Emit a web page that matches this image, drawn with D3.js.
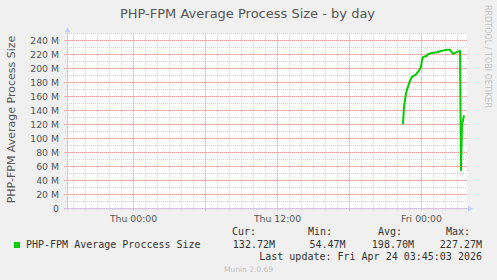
<!DOCTYPE html>
<html>
<head>
<meta charset="utf-8">
<script src="https://cdn.jsdelivr.net/npm/d3@7"></script>
<style>
  body { margin: 0; background: #f0f0f0; }
  svg { display: block; }
  text { font-family: "DejaVu Sans", sans-serif; fill: #555; }
  .mono { font-family: "DejaVu Sans Mono", monospace; fill: #333; }
</style>
</head>
<body>
<svg width="497" height="280"></svg>
<script>
"use strict"

// five minute samples, values in MB
const times = ["2026-04-23T22:30", "2026-04-23T22:35", "2026-04-23T22:45", "2026-04-23T22:55",
    "2026-04-23T23:05", "2026-04-23T23:15", "2026-04-23T23:35", "2026-04-23T23:50",
    "2026-04-24T00:00", "2026-04-24T00:05", "2026-04-24T00:10", "2026-04-24T00:30",
    "2026-04-24T00:35", "2026-04-24T00:55", "2026-04-24T01:20", "2026-04-24T01:45",
    "2026-04-24T02:10", "2026-04-24T02:25", "2026-04-24T02:40", "2026-04-24T02:50",
    "2026-04-24T03:10", "2026-04-24T03:15", "2026-04-24T03:20", "2026-04-24T03:25",
    "2026-04-24T03:35"]
const sizes = [120, 145, 164, 174, 182, 188, 191, 197, 202, 212, 216, 218,
    220, 222, 223, 225, 226.5, 226.5, 220.5, 222, 224.5, 225, 54.5, 119, 132.7]

const yMax = 250
const timeStart = "2026-04-22T18:30"
const timeEnd = "2026-04-24T03:50"

const seriesName = "PHP-FPM Average Proccess Size"
const statHeads = ["Cur:", "Min:", "Avg:", "Max:"]
const statValues = ["132.72M", "54.47M", "198.70M", "227.27M"]

let svg = d3.select("svg"),
    pLeft = 67, pRight = 467, pTop = 33.3, pBottom = 208.3

let parse = d3.utcParse("%Y-%m-%dT%H:%M")
let data = times.map((t, i) => ({t: parse(t), v: sizes[i]}))

let x = d3.scaleUtc().domain([parse(timeStart), parse(timeEnd)]).range([pLeft, pRight])
let y = d3.scaleLinear().domain([0, yMax]).range([pBottom, pTop])

svg.append("rect")
    .attr("x", pLeft).attr("y", pTop)
    .attr("width", pRight - pLeft).attr("height", pBottom - pTop)
    .attr("fill", "#fff")

let grid = svg.append("g")

// minor grid
grid.selectAll(".vmin")
    .data(x.ticks(d3.utcHour.every(1)))
    .enter().append("line")
    .attr("x1", d => Math.round(x(d)) + 0.5).attr("x2", d => Math.round(x(d)) + 0.5)
    .attr("y1", pTop).attr("y2", pBottom + 2)
    .attr("stroke", "#d0d0d0").attr("stroke-dasharray", "1,1")
grid.selectAll(".hmin")
    .data(y.ticks(25))
    .enter().append("line")
    .attr("y1", d => Math.round(y(d)) + 0.5).attr("y2", d => Math.round(y(d)) + 0.5)
    .attr("x1", pLeft - 2).attr("x2", pRight)
    .attr("stroke", "#d0d0d0").attr("stroke-dasharray", "1,1")

// major grid
grid.selectAll(".vmaj")
    .data(x.ticks(d3.utcHour.every(6)))
    .enter().append("line")
    .attr("x1", d => Math.round(x(d)) + 0.5).attr("x2", d => Math.round(x(d)) + 0.5)
    .attr("y1", pTop).attr("y2", pBottom + 3)
    .attr("stroke", "#f4a0a0").attr("stroke-dasharray", "1,1")
grid.selectAll(".hmaj")
    .data(y.ticks(25).filter(d => d % 20 == 0))
    .enter().append("line")
    .attr("y1", d => Math.round(y(d)) + 0.5).attr("y2", d => Math.round(y(d)) + 0.5)
    .attr("x1", pLeft - 3).attr("x2", pRight)
    .attr("stroke", "#f4a0a0").attr("stroke-dasharray", "1,1")

// axes labels
let yAxis = svg.append("g")
    .attr("transform", "translate(" + pLeft + ",0)")
    .call(d3.axisLeft(y)
        .tickValues(y.ticks(25).filter(d => d % 20 == 0))
        .tickSize(0).tickPadding(8)
        .tickFormat(d => d == 0 ? "0" : d + " M"))
yAxis.select(".domain").remove()
yAxis.selectAll("text")
    .attr("font-family", "DejaVu Sans").attr("font-size", 9.3)
    .attr("fill", "#555").attr("dy", "0.34em")

let xAxis = svg.append("g")
    .attr("transform", "translate(0," + pBottom + ")")
    .call(d3.axisBottom(x)
        .ticks(d3.utcHour.every(12))
        .tickSize(0)
        .tickFormat(d3.utcFormat("%a %H:%M")))
xAxis.select(".domain").remove()
xAxis.selectAll("text")
    .attr("font-family", "DejaVu Sans").attr("font-size", 9.3)
    .attr("fill", "#555").attr("y", 13.3).attr("dy", null)

// axis lines with arrows
let axisColor = "#c8cdf4"
svg.append("line")
    .attr("x1", pLeft + 0.5).attr("x2", pLeft + 0.5)
    .attr("y1", pBottom + 2).attr("y2", pTop - 4)
    .attr("stroke", axisColor)
svg.append("path")
    .attr("d", "M" + (pLeft - 2.5) + "," + (pTop - 1) + "L" + (pLeft + 0.5) + "," + (pTop - 6) +
        "L" + (pLeft + 3.5) + "," + (pTop - 1) + "Z")
    .attr("fill", axisColor)
svg.append("line")
    .attr("x1", pLeft - 3).attr("x2", pRight + 3)
    .attr("y1", pBottom + 0.5).attr("y2", pBottom + 0.5)
    .attr("stroke", axisColor)
svg.append("path")
    .attr("d", "M" + (pRight + 1) + "," + (pBottom - 2.5) + "L" + (pRight + 6) + "," + (pBottom + 0.5) +
        "L" + (pRight + 1) + "," + (pBottom + 3.5) + "Z")
    .attr("fill", axisColor)

// series
svg.append("path")
    .datum(data)
    .attr("fill", "none")
    .attr("stroke", "#00cc00")
    .attr("stroke-width", 2)
    .attr("stroke-linejoin", "round")
    .attr("d", d3.line().x(d => x(d.t)).y(d => y(d.v)))

// titles
svg.append("text")
    .attr("x", 247.5).attr("y", 18)
    .attr("text-anchor", "middle")
    .attr("font-size", 13)
    .text("PHP-FPM Average Process Size - by day")

svg.append("text")
    .attr("transform", "translate(15,119.5) rotate(-90)")
    .attr("text-anchor", "middle")
    .attr("font-size", 11)
    .text("PHP-FPM Average Process Size")

svg.append("text")
    .attr("transform", "translate(485,5) rotate(90)")
    .attr("font-size", 8)
    .style("fill", "#c4c4c4")
    .text("RRDTOOL / TOBI OETIKER")

// legend
svg.append("rect")
    .attr("x", 14).attr("y", 242).attr("width", 6).attr("height", 6)
    .attr("fill", "#00cc00")
svg.append("text")
    .attr("class", "mono")
    .attr("x", 26).attr("y", 247.5)
    .attr("font-size", 10)
    .text(seriesName)

let headX = [256, 332, 402, 470]
let valX = [275, 345.5, 414, 482]
statHeads.forEach((h, i) => {
    svg.append("text").attr("class", "mono")
        .attr("x", headX[i]).attr("y", 234.5)
        .attr("text-anchor", "end").attr("font-size", 10)
        .text(h)
    svg.append("text").attr("class", "mono")
        .attr("x", valX[i]).attr("y", 247.5)
        .attr("text-anchor", "end").attr("font-size", 10)
        .text(statValues[i])
})

svg.append("text").attr("class", "mono")
    .attr("x", 482).attr("y", 259.5)
    .attr("text-anchor", "end").attr("font-size", 10)
    .text("Last update: Fri Apr 24 03:45:03 2026")

svg.append("text")
    .attr("x", 248.5).attr("y", 271.5)
    .attr("text-anchor", "middle").attr("font-size", 7.5)
    .style("fill", "#c4c4c4")
    .text("Munin 2.0.69")
</script>
</body>
</html>
